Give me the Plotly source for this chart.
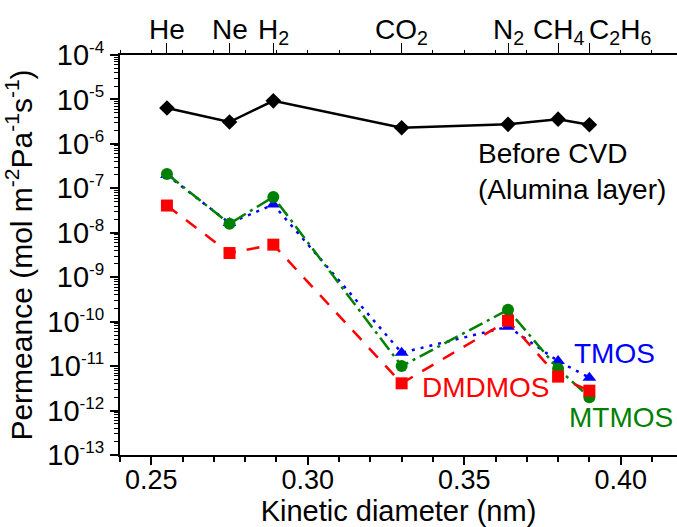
import plotly.graph_objects as go

# Gases and their kinetic diameters (nm)
gases = ["He", "Ne", "H<sub>2</sub>", "CO<sub>2</sub>", "N<sub>2</sub>", "CH<sub>4</sub>", "C<sub>2</sub>H<sub>6</sub>"]
kinetic_diameter = [0.255, 0.275, 0.289, 0.330, 0.364, 0.380, 0.390]

# Permeance (mol m^-2 Pa^-1 s^-1)
before_cvd = [6.4e-6, 3.1e-6, 9.3e-6, 2.3e-6, 2.75e-6, 3.6e-6, 2.7e-6]
tmos = [2.0e-7, 1.65e-8, 4.3e-8, 2.0e-11, 7.7e-11, 1.3e-11, 5.5e-12]
mtmos = [2.1e-7, 1.6e-8, 6.4e-8, 1.0e-11, 1.85e-10, 8.7e-12, 2.0e-12]
dmdmos = [4.1e-8, 3.5e-9, 5.4e-9, 4.1e-12, 1.05e-10, 5.8e-12, 2.8e-12]

decades = list(range(-13, -3))
FONT = "Liberation Sans"

fig = go.Figure()

fig.add_trace(go.Scatter(
    x=kinetic_diameter, y=before_cvd, mode="lines+markers",
    line=dict(color="black", width=2.5),
    marker=dict(symbol="diamond", size=12, color="black"),
))
fig.add_trace(go.Scatter(
    x=kinetic_diameter, y=tmos, mode="lines+markers",
    line=dict(color="#0000FF", width=2.5, dash="3px,6px"),
    marker=dict(symbol="triangle-up", size=12, color="#0000FF"),
))
fig.add_trace(go.Scatter(
    x=kinetic_diameter, y=mtmos, mode="lines+markers",
    line=dict(color="#008000", width=2.5, dash="15px,5px,3px,5px"),
    marker=dict(symbol="circle", size=12, color="#008000"),
))
fig.add_trace(go.Scatter(
    x=kinetic_diameter, y=dmdmos, mode="lines+markers",
    line=dict(color="#FF0000", width=2.5, dash="13px,11px"),
    marker=dict(symbol="square", size=12, color="#FF0000"),
))
# carrier for the top gas axis
fig.add_trace(go.Scatter(
    x=kinetic_diameter, y=before_cvd, xaxis="x2", mode="markers",
    marker=dict(opacity=0), hoverinfo="skip",
))

xr = [0.24, 0.418]

fig.update_layout(
    width=677, height=527,
    margin=dict(l=120, r=0, t=55, b=72),
    paper_bgcolor="white", plot_bgcolor="white",
    showlegend=False,
    font=dict(family=FONT, size=28, color="black"),
    xaxis=dict(
        range=xr, tickmode="linear", tick0=0.25, dtick=0.05, tickformat=".2f",
        ticks="outside", ticklen=8, tickwidth=1.5, tickcolor="black",
        minor=dict(tickmode="linear", tick0=0.24, dtick=0.01, ticks="outside",
                   ticklen=5, tickwidth=1.5, tickcolor="black"),
        showline=True, linewidth=2, linecolor="black",
        showgrid=False, zeroline=False, automargin=False,
        tickfont=dict(size=27), ticklabelstandoff=-8,
        title=dict(text="Kinetic diameter (nm)", standoff=10, font=dict(size=29)),
    ),
    xaxis2=dict(
        range=xr, overlaying="x", side="top",
        tickmode="array", tickvals=kinetic_diameter, showticklabels=False,
        ticks="outside", ticklen=10, tickwidth=1, tickcolor="black",
        minor=dict(tickmode="linear", tick0=0.24, dtick=0.01, ticks="outside",
                   ticklen=3, tickwidth=1, tickcolor="black"),
        showline=True, linewidth=1.5, linecolor="black",
        showgrid=False, zeroline=False, automargin=False,
    ),
    yaxis=dict(
        type="log", range=[-13, -4],
        tickmode="array", tickvals=[10.0 ** d for d in decades],
        ticktext=["10<sup><span style='font-size:17px'>%d</span></sup>" % d for d in decades],
        tickfont=dict(size=29),
        ticks="outside", ticklen=8, tickwidth=1.5, tickcolor="black",
        minor=dict(tickmode="array",
                   tickvals=[k * 10.0 ** d for d in decades[:-1] for k in range(2, 10)],
                   ticks="outside", ticklen=4, tickwidth=1, tickcolor="black"),
        showline=True, linewidth=2, linecolor="black",
        showgrid=False, zeroline=False, automargin=False,
        title=dict(text="Permeance (mol m<sup>-2</sup>Pa<sup>-1</sup>s<sup>-1</sup>)",
                   standoff=6, font=dict(size=30)),
    ),
)

# gas names above the top axis ticks
for i, (g, kd) in enumerate(zip(gases, kinetic_diameter)):
    last = i == len(gases) - 1
    fig.add_annotation(x=kd, y=1, xref="x2", yref="paper", text=g, showarrow=False,
                       xanchor="left" if last else "center", yanchor="top",
                       xshift=-2 if last else 0, yshift=43,
                       font=dict(family=FONT, size=28, color="black"))

fig.add_annotation(x=0.3537, y=-6.61, xref="x", yref="y", text="Before CVD<br>(Alumina layer)",
                   showarrow=False, xanchor="left", align="left",
                   font=dict(family=FONT, size=28, color="black"))
fig.add_annotation(x=0.398, y=-10.72, xref="x", yref="y", text="TMOS", showarrow=False,
                   font=dict(family=FONT, size=28, color="#0000FF"))
fig.add_annotation(x=0.3569, y=-11.48, xref="x", yref="y", text="DMDMOS", showarrow=False,
                   font=dict(family=FONT, size=28, color="#FF0000"))
fig.add_annotation(x=0.400, y=-12.16, xref="x", yref="y", text="MTMOS", showarrow=False,
                   font=dict(family=FONT, size=28, color="#008000"))

fig.write_html("out.html")
